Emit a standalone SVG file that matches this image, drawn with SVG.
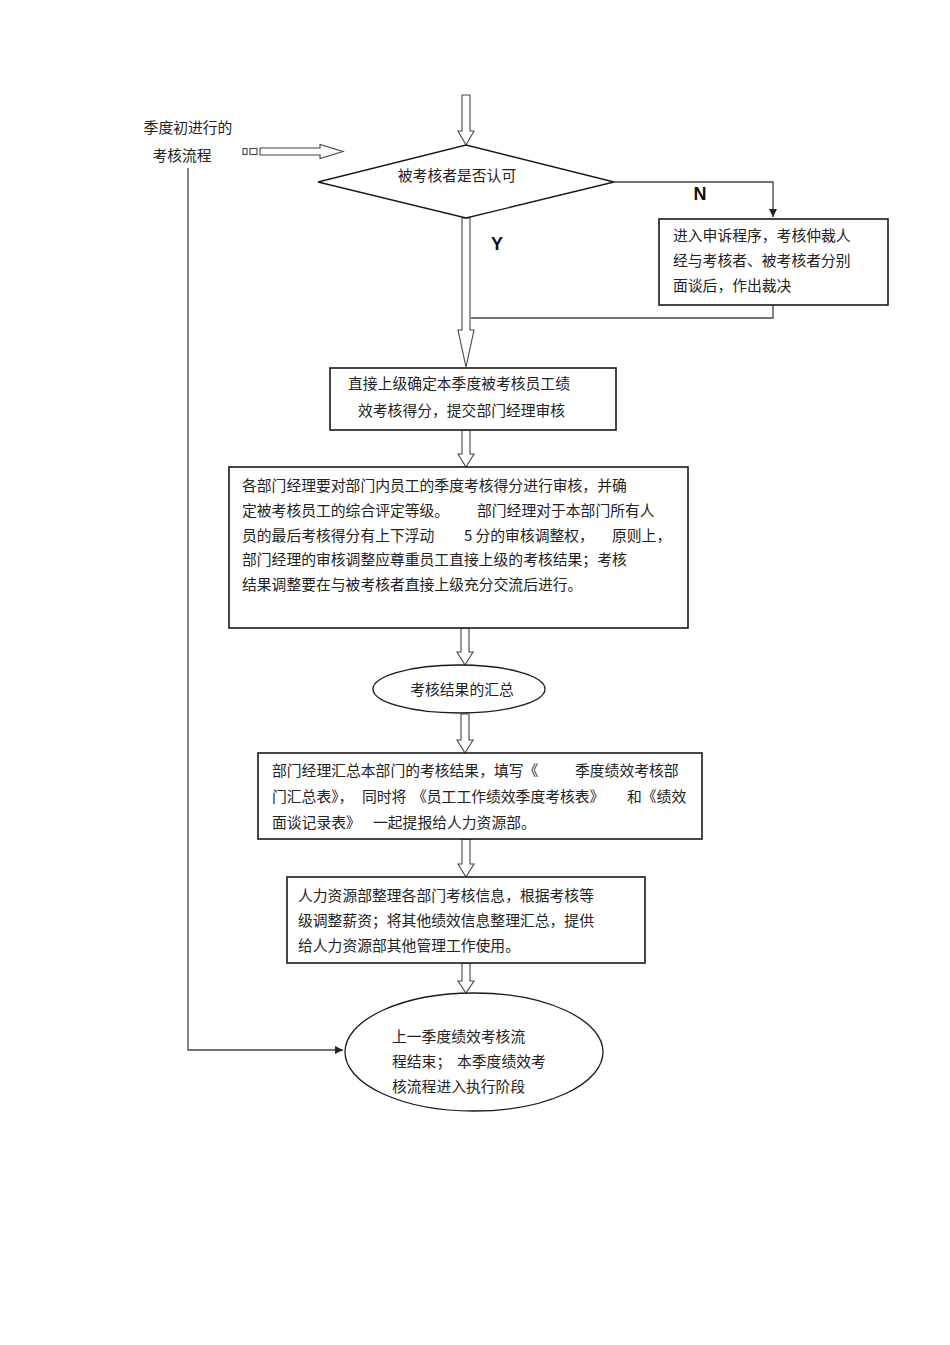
<svg xmlns="http://www.w3.org/2000/svg" width="950" height="1345" viewBox="0 0 950 1345">
<defs>
<style>
text{font-family:"Noto Sans CJK SC","Liberation Sans",sans-serif;font-size:14.8px;fill:#222;}
.lbl{font-family:"Liberation Sans",Arial,sans-serif;font-weight:bold;font-size:18px;fill:#111;}
.box{fill:#fff;stroke:#1a1a1a;stroke-width:1.6;}
.hol{fill:#fff;stroke:#444;stroke-width:1.1;}
.ln{fill:none;stroke:#444;stroke-width:1.3;}
</style>
<marker id="ah" viewBox="0 0 10 10" refX="10" refY="5" markerWidth="8" markerHeight="8" markerUnits="userSpaceOnUse" orient="auto">
<path d="M0,0 L10,5 L0,10 z" fill="#222"/>
</marker>
</defs>
<rect width="950" height="1345" fill="#fff"/>

<g id="connectors">
<polygon class="hol" points="462,95 470,95 470,131 474,131 466,145 458,131 462,131"/>
<rect class="hol" x="243" y="148.5" width="4" height="6"/>
<rect class="hol" x="250" y="148.5" width="7" height="6"/>
<polygon class="hol" points="260,148 320,148 320,144.5 343,151.5 320,158.5 320,155 260,155"/>
<polyline class="ln" points="614,182 773,182 773,217" marker-end="url(#ah)"/>
<polygon class="hol" points="462,218 470,218 470,330 474,330 466,367 458,330 462,330"/>
<polyline class="ln" points="773,305 773,318 471,318"/>
<polygon class="hol" points="462,430 470,430 470,454 474,454 466,467 458,454 462,454"/>
<polygon class="hol" points="461,628 469,628 469,652 473,652 465,665 457,652 461,652"/>
<polygon class="hol" points="461,714 469,714 469,740 473,740 465,753 457,740 461,740"/>
<polygon class="hol" points="462,839 470,839 470,864 474,864 466,877 458,864 462,864"/>
<polygon class="hol" points="462,963 470,963 470,981 474,981 466,993 458,981 462,981"/>
<polyline class="ln" points="188,168 188,1050 343,1050" marker-end="url(#ah)"/>
<text class="lbl" x="700" y="200" text-anchor="middle">N</text>
<text class="lbl" x="497" y="250" text-anchor="middle">Y</text>
</g>

<g id="start-label">
<text x="188" y="133" text-anchor="middle">季度初进行的</text>
<text x="182" y="161" text-anchor="middle">考核流程</text>
</g>

<g id="decision">
<polygon class="box" points="466,145 614,182 466,218 318,182" style="stroke-width:1.3"/>
<text x="457" y="180.5" text-anchor="middle">被考核者是否认可</text>
</g>

<g id="appeal">
<rect class="box" x="659" y="219" width="229" height="86"/>
<text x="673" y="240.5">进入申诉程序，考核仲裁人</text>
<text x="673" y="265.5">经与考核者、被考核者分别</text>
<text x="673" y="290.5">面谈后，作出裁决</text>
</g>

<g id="score">
<rect class="box" x="330" y="368" width="286" height="62"/>
<text x="348" y="388.5">直接上级确定本季度被考核员工绩</text>
<text x="358" y="415.5">效考核得分，提交部门经理审核</text>
</g>

<g id="review">
<rect class="box" x="229" y="467" width="459" height="161"/>
<text x="242" y="490.5">各部门经理要对部门内员工的季度考核得分进行审核，并确</text>
<text x="242" y="515.5">定被考核员工的综合评定等级。</text>
<text x="477" y="515.5">部门经理对于本部门所有人</text>
<text x="242" y="540.5">员的最后考核得分有上下浮动</text>
<text x="464" y="540.5">5 分的审核调整权，</text>
<text x="612" y="540.5">原则上，</text>
<text x="242" y="564.5">部门经理的审核调整应尊重员工直接上级的考核结果；考核</text>
<text x="242" y="589.5">结果调整要在与被考核者直接上级充分交流后进行。</text>
</g>

<g id="summary">
<ellipse class="box" cx="459" cy="689" rx="86" ry="24" style="stroke-width:1.3"/>
<text x="462" y="694.5" text-anchor="middle">考核结果的汇总</text>
</g>

<g id="dept-report">
<rect class="box" x="258" y="753" width="444" height="86"/>
<text x="272" y="775.5">部门经理汇总本部门的考核结果，填写《</text>
<text x="575" y="775.5">季度绩效考核部</text>
<text x="272" y="801.5">门汇总表》，</text>
<text x="362" y="801.5">同时将</text>
<text x="412" y="801.5">《员工工作绩效季度考核表》</text>
<text x="627" y="801.5">和《绩效</text>
<text x="272" y="827.5">面谈记录表》</text>
<text x="373" y="827.5">一起提报给人力资源部。</text>
</g>

<g id="hr">
<rect class="box" x="287" y="877" width="358" height="86"/>
<text x="298" y="900.5">人力资源部整理各部门考核信息，根据考核等</text>
<text x="298" y="925.5">级调整薪资；将其他绩效信息整理汇总，提供</text>
<text x="298" y="950.5">给人力资源部其他管理工作使用。</text>
</g>

<g id="end">
<ellipse class="box" cx="474" cy="1052" rx="129" ry="59" style="stroke-width:1.3"/>
<text x="392" y="1041.5">上一季度绩效考核流</text>
<text x="392" y="1066.5">程结束；</text>
<text x="457" y="1066.5">本季度绩效考</text>
<text x="392" y="1091.5">核流程进入执行阶段</text>
</g>
</svg>
